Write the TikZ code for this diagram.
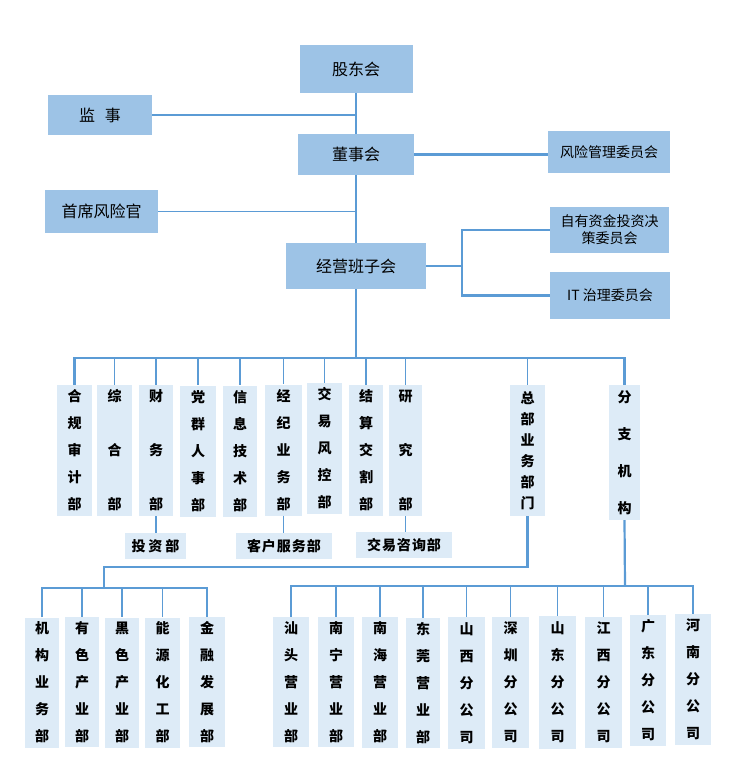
\documentclass[tikz,border=0pt]{standalone}
\usepackage{fontspec}
\setmainfont{Noto Sans CJK SC}
\usepackage{tikz}
\definecolor{boxBlue}{RGB}{157, 195, 230}
\definecolor{paleBlue}{RGB}{221, 235, 247}
\definecolor{lineBlue}{RGB}{91, 155, 213}

\begin{document}
\begin{tikzpicture}[x=1pt, y=-1pt,
    topbox/.style={fill=boxBlue, inner sep=0, align=center, font=\fontsize{16}{18}\selectfont},
    dept/.style={fill=paleBlue, inner sep=0, minimum width=35, minimum height=131, align=center,
        font=\bfseries\fontsize{14}{27}\selectfont},
    subbox/.style={fill=paleBlue, inner sep=0, minimum height=26,
        font=\bfseries\fontsize{14}{15}\selectfont},
    link/.style={draw=lineBlue, line width=1.3pt},
    trunk/.style={draw=lineBlue, line width=2.2pt}]
    \useasboundingbox (0,0) rectangle (739,773);

    % top: shareholders, board, management
    \node[topbox, minimum width=113, minimum height=48] (gudong) at (356,69) {股东会};
    \node[topbox, minimum width=104, minimum height=40] (jianshi) at (100,115) {监\hspace{0.6em}事};
    \node[topbox, minimum width=116, minimum height=41] (dongshi) at (356,154.5) {董事会};
    \node[topbox, minimum width=113, minimum height=43] (shouxi) at (101.5,211.5) {首席风险官};
    \node[topbox, minimum width=140, minimum height=46] (jingying) at (356,266) {经营班子会};
    \node[topbox, minimum width=122, minimum height=42, font=\fontsize{14}{16}\selectfont] (fengxian) at (609,152) {风险管理委员会};
    \node[topbox, minimum width=119, minimum height=46, font=\fontsize{14}{17}\selectfont] (ziyou) at (609.5,230) {自有资金投资决\\策委员会};
    \node[topbox, minimum width=120, minimum height=47, font=\fontsize{14}{16}\selectfont] (itzl) at (610,295.5) {IT 治理委员会};

    \coordinate (bus) at (356,358);
    \coordinate (brk) at (462,266);

    \draw[trunk] (gudong.south) -- (dongshi.north);
    \draw[trunk] (dongshi.south) -- (jingying.north);
    \draw[trunk, line width=1.7pt] (jianshi.east) -- (jianshi.east -| gudong.south);
    \draw[trunk, line width=1.7pt] (shouxi.east) -- (shouxi.east -| gudong.south);
    \draw[trunk] (dongshi.east) -- (dongshi.east -| fengxian.west);
    \draw[trunk] (jingying.east) -- (brk);
    \draw[trunk] (ziyou.west) -- (ziyou.west -| brk) -- (itzl.west -| brk) -- (itzl.west);
    \draw[trunk] (jingying.south) -- (bus);

    % departments
    \node[dept] (hegui) at (74.5,450.5) {合\\规\\审\\计\\部};
    \node[dept] (zonghe) at (114.5,450.5) {综\\[27pt]合\\[27pt]部};
    \node[dept, minimum width=34] (caiwu) at (156,450.5) {财\\[27pt]务\\[27pt]部};
    \node[dept, minimum width=36] (dangqun) at (198,451) {党\\群\\人\\事\\部};
    \node[dept, minimum width=34] (xinxi) at (240,451) {信\\息\\技\\术\\部};
    \node[dept, minimum width=37] (jingji) at (283.5,450) {经\\纪\\业\\务\\部};
    \node[dept] (jiaoyi) at (324.5,448.5) {交\\易\\风\\控\\部};
    \node[dept, minimum width=34] (jiesuan) at (366,450.5) {结\\算\\交\\割\\部};
    \node[dept, minimum width=33] (yanjiu) at (405.5,450.5) {研\\[27pt]究\\[27pt]部};
    \node[dept, font=\bfseries\fontsize{14}{21}\selectfont] (zongbu) at (527.5,450.5) {总\\部\\业\\务\\部\\门};
    \node[dept, minimum width=31, minimum height=135] (fenzhi) at (624.5,452.5) {分\\[10pt]支\\[10pt]机\\[10pt]构};

    \draw[trunk] (hegui.north) |- (bus) -| (fenzhi.north);
    \foreach \d in {zonghe, caiwu, dangqun, xinxi, jingji, jiaoyi, jiesuan, yanjiu, zongbu}
        \draw[link] (\d.north |- bus) -- (\d.north);

    \node[subbox, minimum width=61] (touzi) at (155.5,546) {投\hspace{3pt}资\hspace{3pt}部};
    \node[subbox, minimum width=96] (kehu) at (284,546) {客\hspace{1pt}户\hspace{1pt}服\hspace{1pt}务\hspace{1pt}部};
    \node[subbox, minimum width=96] (zixun) at (404,545) {交\hspace{1pt}易\hspace{1pt}咨\hspace{1pt}询\hspace{1pt}部};
    \draw[link] (caiwu.south) -- (caiwu.south |- touzi.north);
    \draw[link] (jingji.south) -- (jingji.south |- kehu.north);
    \draw[link] (yanjiu.south) -- (yanjiu.south |- zixun.north);

    % headquarters business units
    \coordinate (zbturn) at (104,567);
    \coordinate (zbbus) at (104,588);
    \node[dept, minimum width=34, minimum height=130] (jigou) at (42,682.5) {机\\构\\业\\务\\部};
    \node[dept, minimum width=34, minimum height=130] (youse) at (82,682) {有\\色\\产\\业\\部};
    \node[dept, minimum width=34, minimum height=130] (heise) at (122,682.5) {黑\\色\\产\\业\\部};
    \node[dept, minimum height=130] (nengyuan) at (162.5,682.5) {能\\源\\化\\工\\部};
    \node[dept, minimum width=36, minimum height=130] (jinrong) at (207,682) {金\\融\\发\\展\\部};

    \draw[trunk] (zongbu.south) |- (zbturn) -- (zbbus);
    \draw[trunk] (jigou.north) |- (zbbus) -| (jinrong.north);
    \foreach \d in {youse, heise, nengyuan}
        \draw[link] (\d.north |- zbbus) -- (\d.north);

    % branches
    \coordinate (fzbus) at (625,586);
    \node[dept, minimum width=36, minimum height=130] (shantou) at (291,682) {汕\\头\\营\\业\\部};
    \node[dept, minimum width=36, minimum height=130] (nanning) at (336,682) {南\\宁\\营\\业\\部};
    \node[dept, minimum width=36, minimum height=131] (nanhai) at (380,682.5) {南\\海\\营\\业\\部};
    \node[dept, minimum width=34, minimum height=130] (dongguan) at (423,683) {东\\莞\\营\\业\\部};
    \node[dept, minimum width=37, minimum height=132] (shanxi) at (466.5,683) {山\\西\\分\\公\\司};
    \node[dept, minimum width=37, minimum height=131] (shenzhen) at (510.5,682.5) {深\\圳\\分\\公\\司};
    \node[dept, minimum width=37, minimum height=133] (shandong) at (557.5,682.5) {山\\东\\分\\公\\司};
    \node[dept, minimum width=37, minimum height=131] (jiangxi) at (603.5,682.5) {江\\西\\分\\公\\司};
    \node[dept, minimum width=36, minimum height=131] (guangdong) at (648,680.5) {广\\东\\分\\公\\司};
    \node[dept, minimum width=36, minimum height=131] (henan) at (693,679.5) {河\\南\\分\\公\\司};

    \draw[trunk] (fenzhi.south) -- (fzbus);
    \draw[trunk] (shantou.north) |- (fzbus) -| (henan.north);
    \foreach \d in {nanning, nanhai, dongguan, shanxi, shenzhen, shandong, jiangxi, guangdong}
        \draw[link] (\d.north |- fzbus) -- (\d.north);
\end{tikzpicture}
\end{document}
